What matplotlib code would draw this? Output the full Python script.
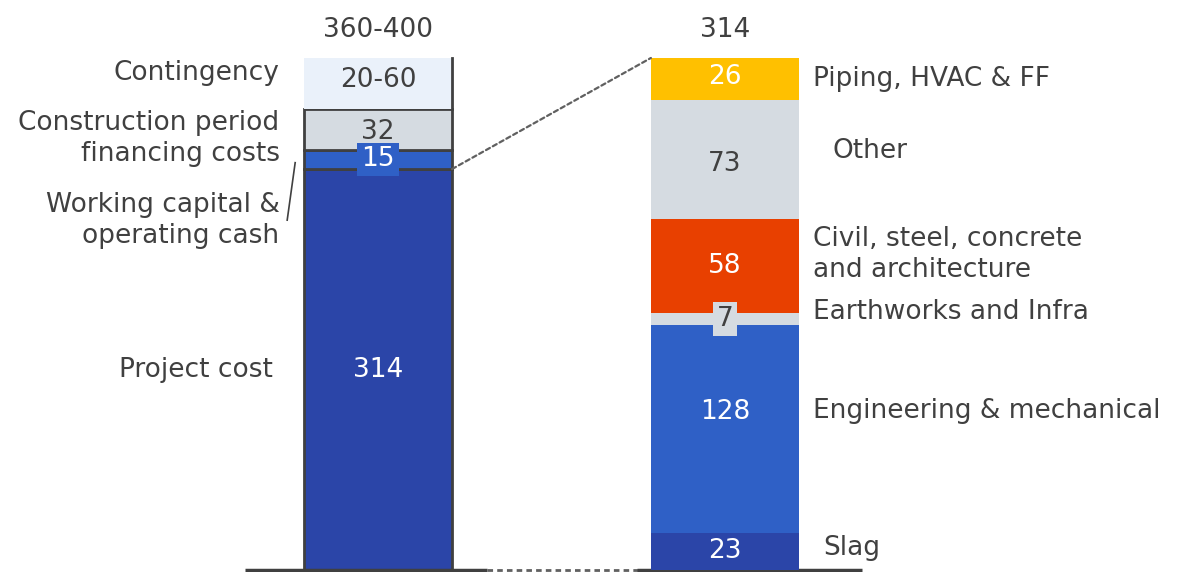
import matplotlib.pyplot as plt
from matplotlib.patches import ConnectionPatch

plt.rcParams['font.family'] = ['DejaVu Sans']

# left bar: total capex build-up (contingency drawn at the middle of 20-60)
left_names = ['Project cost', 'Working capital &\noperating cash',
              'Construction period\nfinancing costs', 'Contingency']
left_values = [314, 15, 32, 40]
left_text = ['314', '15', '32', '20-60']
left_total_text = '360-400'

# right bar: project cost breakdown
right_names = ['Slag', 'Engineering & mechanical', 'Earthworks and Infra',
               'Civil, steel, concrete\nand architecture', 'Other',
               'Piping, HVAC & FF']
right_values = [23, 128, 7, 58, 73, 26]
right_total_text = '314'

# styling
dark = '#404040'
left_colors = ['#2B45A8', '#2F60C6', '#D5DBE1', '#EAF1FA']
left_txtcol = ['white', 'white', dark, dark]
right_colors = ['#2B45A8', '#2F60C6', '#D5DBE1', '#E84000', '#D5DBE1', '#FFC000']
right_txtcol = ['white', 'white', dark, 'white', dark, 'white']
left_lab_off = [0, -48, -7, 8]
left_val_off = [0, 0, -2, 3]
right_lab_off = [2, 11, 4.5, 7, 5.5, 0]
right_val_off = [0, 10, 0, 0, -3, 1]
right_lab_dx = [0.07, 0.04, 0.04, 0.04, 0.095, 0.04]
fs = 19

fig = plt.figure(figsize=(11.8, 5.72), dpi=100)
ax = fig.add_axes([0, 0, 1, 1])
ax2 = ax.twinx()
for a in (ax, ax2):
    a.axis('off')

xl, xr, w = 0, 1, 0.427
ax.set_xlim(-1.089, 2.311)
left_total = sum(left_values)
right_total = sum(right_values)
ylo, yhi = -1.57, 446.4
ax.set_ylim(ylo, yhi)
k = right_total / left_total
ax2.set_ylim(ylo * k, yhi * k)

# left stacked bar
bottom = 0
for i, v in enumerate(left_values):
    ec = dark if i < 3 else 'none'
    ax.bar(xl, v, w, bottom=bottom, color=left_colors[i], edgecolor=ec,
           linewidth=2, zorder=2)
    mid = bottom + v / 2
    box = None
    if i == 1:
        box = dict(boxstyle='square,pad=0.15', fc=left_colors[i], ec='none')
    ax.text(xl, mid + left_val_off[i], left_text[i], ha='center', va='center',
            fontsize=fs, color=left_txtcol[i], bbox=box, zorder=4)
    ax.text(xl - w / 2 - 0.07 - (0.02 if i == 0 else 0), mid + left_lab_off[i],
            left_names[i], ha='right', va='center', fontsize=fs, color=dark,
            linespacing=1.25)
    bottom += v
# right edge of contingency
ax.plot([xl + w / 2] * 2, [bottom - left_values[-1], bottom], color=dark,
        lw=2, zorder=3)
ax.annotate(left_total_text, (xl, left_total), xytext=(0, 11),
            textcoords='offset points', ha='center', va='bottom',
            fontsize=fs, color=dark)

# leader for working capital label
wc_top = left_values[0] + left_values[1]
ax.plot([xl - w / 2 - 0.025, xl - w / 2 - 0.048],
        [wc_top - 10, left_values[0] - 40], color=dark, lw=1.2)

# right stacked bar
bottom = 0
for i, v in enumerate(right_values):
    ax2.bar(xr, v, w, bottom=bottom, color=right_colors[i], edgecolor='none',
            zorder=2)
    mid = bottom + v / 2
    box = None
    if v < 10:
        box = dict(boxstyle='square,pad=0.15', fc=right_colors[i], ec='none')
    ax2.text(xr, mid + right_val_off[i], str(v), ha='center', va='center',
             fontsize=fs, color=right_txtcol[i], bbox=box, zorder=4)
    ax2.text(xr + w / 2 + right_lab_dx[i], mid + right_lab_off[i],
             right_names[i], ha='left', va='center', fontsize=fs, color=dark,
             linespacing=1.25)
    bottom += v
ax2.annotate(right_total_text, (xr, right_total), xytext=(0, 11),
             textcoords='offset points', ha='center', va='bottom',
             fontsize=fs, color=dark)

# dashed connector from project cost to breakdown
con = ConnectionPatch(xyA=(xl + w / 2, left_values[0]), coordsA=ax.transData,
                      xyB=(xr - w / 2, right_total), coordsB=ax2.transData,
                      color='#606060', lw=1.6, ls=(0, (2, 1.5)), zorder=1)
fig.add_artist(con)

# baseline
ax.plot([xl - w / 2 - 0.17, xl + w / 2 + 0.1], [0, 0], color=dark, lw=2.5,
        zorder=3, solid_capstyle='butt')
ax.plot([xl + w / 2 + 0.1, xr - w / 2], [0, 0], color='#606060', lw=2,
        ls=(0, (2, 1.5)), zorder=3)
ax.plot([xr - w / 2 - 0.04, xr + w / 2 + 0.18], [0, 0], color=dark, lw=2.5,
        zorder=3, solid_capstyle='butt')

fig.savefig('out.png', dpi=100)
